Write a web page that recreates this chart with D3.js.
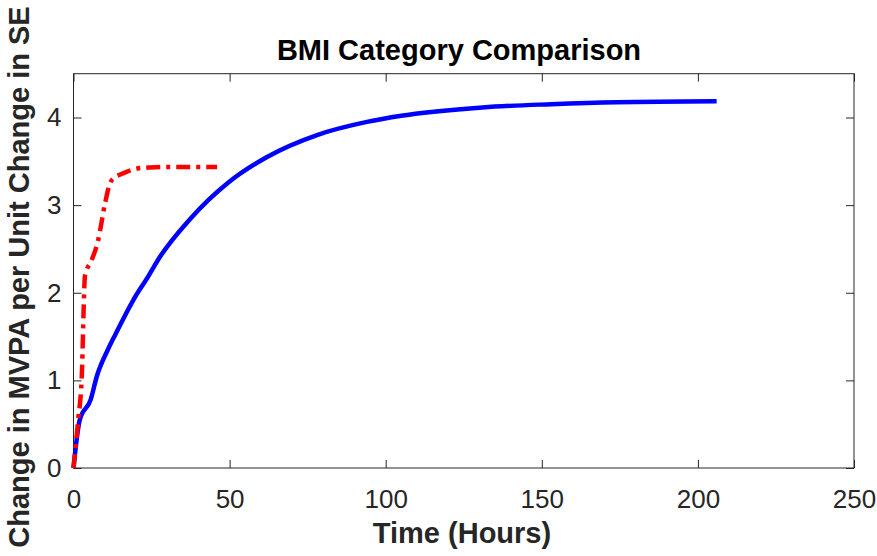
<!DOCTYPE html>
<html>
<head>
<meta charset="utf-8">
<script src="https://cdn.jsdelivr.net/npm/d3@7"></script>
<style>
  body { margin: 0; background: #fff; }
  text { font-family: "Liberation Sans", Arial, sans-serif; }
</style>
</head>
<body>
<script>
// data
const blueHours = [0, 2, 5.5, 7.5, 11, 13.5, 19.2, 24, 27.7, 37.3, 50, 62, 78, 94, 105, 131, 153, 174, 206]
const blueValues = [0, 0.55, 0.78, 1.05, 1.35, 1.53, 1.92, 2.19, 2.41, 2.84, 3.27, 3.55, 3.8, 3.95, 4.02, 4.115, 4.152, 4.175, 4.186]

const redHours = [0, 1.5, 2.6, 3.7, 5.8, 7.9, 10.1, 11.7, 13.3, 15, 17, 20.8, 24.5, 30, 46]
const redValues = [0, 0.55, 1.0, 2.2, 2.37, 2.6, 3.02, 3.25, 3.32, 3.35, 3.38, 3.42, 3.43, 3.435, 3.436]

const xTicks = [0, 50, 100, 150, 200, 250]
const yTicks = [0, 1, 2, 3, 4]

const title = 'BMI Category Comparison'
const xLabel = 'Time (Hours)'
const yLabel = 'Change in MVPA per Unit Change in SE'

function render(){
  const w = 877, h = 556
  const left = 73.5, right = 854, top = 73.7, bottom = 468
  const axisColor = '#262626'

  const svg = d3.select('body').append('svg')
    .attr('width', w)
    .attr('height', h)

  const xScale = d3.scaleLinear().domain([0, 250]).range([left, right])
  const yScale = d3.scaleLinear().domain([0, 4.5]).range([bottom, top])

  // box
  svg.append('rect')
    .attr('x', left).attr('y', top)
    .attr('width', right - left).attr('height', bottom - top)
    .attr('fill', 'none').attr('stroke', axisColor).attr('stroke-width', 1)

  // axes, ticks pointing inward
  const tickLen = 8
  const xAxis = d3.axisBottom(xScale).tickValues(xTicks).tickSize(-tickLen).tickPadding(22).tickFormat(d3.format('d'))
  const yAxis = d3.axisLeft(yScale).tickValues(yTicks).tickSize(-tickLen).tickPadding(12).tickFormat(d3.format('d'))

  svg.append('g')
    .attr('transform', `translate(0, ${bottom})`)
    .call(xAxis)
  svg.append('g')
    .attr('transform', `translate(${left}, 0)`)
    .call(yAxis)
  svg.append('g')
    .attr('transform', `translate(0, ${top})`)
    .call(d3.axisTop(xScale).tickValues(xTicks).tickSize(-tickLen).tickFormat(''))
  svg.append('g')
    .attr('transform', `translate(${right}, 0)`)
    .call(d3.axisRight(yScale).tickValues(yTicks).tickSize(-tickLen).tickFormat(''))

  svg.selectAll('.domain').remove()
  svg.selectAll('.tick line').attr('stroke', axisColor)
  svg.selectAll('.tick text')
    .attr('fill', axisColor)
    .style('font-family', '"Liberation Sans", Arial, sans-serif')
    .style('font-size', '26px')

  // lines
  const line = d3.line()
    .x(d => xScale(d[0]))
    .y(d => yScale(d[1]))
    .curve(d3.curveMonotoneX)

  const blue = blueHours.map((t, i) => [t, blueValues[i]])
  const red = redHours.map((t, i) => [t, redValues[i]])

  svg.append('path')
    .datum(blue)
    .attr('d', line)
    .attr('fill', 'none')
    .attr('stroke', '#0000ff')
    .attr('stroke-width', 4.5)

  svg.append('path')
    .datum(red)
    .attr('d', line)
    .attr('fill', 'none')
    .attr('stroke', '#ff0000')
    .attr('stroke-width', 4.5)
    .attr('stroke-dasharray', '14,6,4,6')

  // texts
  svg.append('text')
    .attr('x', 459)
    .attr('y', 60)
    .attr('text-anchor', 'middle')
    .style('font-size', '29px')
    .style('font-weight', 'bold')
    .attr('fill', '#000')
    .text(title)

  svg.append('text')
    .attr('x', 462)
    .attr('y', 543)
    .attr('text-anchor', 'middle')
    .style('font-size', '29px')
    .style('font-weight', 'bold')
    .attr('fill', '#262626')
    .text(xLabel)

  svg.append('text')
    .attr('transform', 'translate(29, 277) rotate(-90)')
    .attr('text-anchor', 'middle')
    .style('font-size', '29px')
    .style('font-weight', 'bold')
    .attr('fill', '#262626')
    .text(yLabel)
}

render()
</script>
</body>
</html>
